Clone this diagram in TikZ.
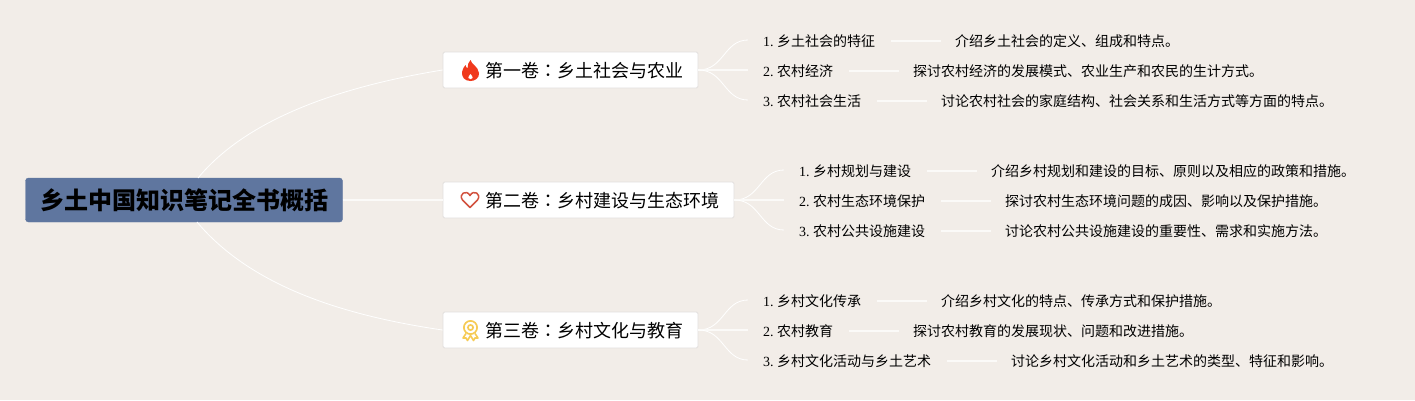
\documentclass[tikz,border=0pt]{standalone}
\usepackage{fontspec}
\setmainfont{Liberation Serif}
\newfontfamily\cjk{Noto Sans CJK SC}
\newfontfamily\cjkcolon{Noto Sans CJK TC}
\usepackage{tikz}
\usetikzlibrary{positioning}
\definecolor{paper}{HTML}{F2EDE8}
\definecolor{rootblue}{HTML}{5F769F}
\definecolor{framegrey}{HTML}{E2DFDD}
\definecolor{flame}{HTML}{F0391C}
\definecolor{heartred}{HTML}{D2523F}
\definecolor{ribbon}{HTML}{F6CB55}
\tikzset{root/.style = {fill=rootblue, draw=rootblue, rounded corners=3, minimum width=317, minimum height=44, inner sep=0, font=\fontsize{24}{24}\cjk\bfseries}}
\tikzset{vol/.style = {fill=white, draw=framegrey, line width=0.9, rounded corners=1.5, minimum height=36, inner sep=0}}
\tikzset{voltext/.style = {anchor=west, inner sep=0, font=\fontsize{18}{18}\cjk}}
\tikzset{item/.style = {anchor=west, inner sep=0, font=\fontsize{14}{14}\selectfont}}
\tikzset{link/.style = {draw=white, line width=0.8}}
\tikzset{stem/.style = {draw=white!70!paper, line width=1.3}}
\newcommand{\nr}[1]{#1.\hspace{3.5pt}}
\begin{document}
\begin{tikzpicture}[x=1pt, y=-1pt]
    \useasboundingbox [fill=paper] (0, 0) rectangle (1415, 400);

    \node [root] (book) at (184, 200) {\raisebox{-0.8pt}{乡土中国知识笔记全书概括}};

    \node [vol, minimum width=255] (volA) at (570.5, 70) {};
    \node [vol, minimum width=291] (volB) at (588.5, 200) {};
    \node [vol, minimum width=255] (volC) at (570.5, 330) {};
    \node [voltext] (volAtext) at (485, 71) {第一卷{\cjkcolon ：}乡土社会与农业};
    \node [voltext] (volBtext) at (485, 201) {第二卷{\cjkcolon ：}乡村建设与生态环境};
    \node [voltext] (volCtext) at (485, 331) {第三卷{\cjkcolon ：}乡村文化与教育};

    % icons
    \fill [flame] (470.5, 60) .. controls (471, 64) and (478, 66) .. (479, 73) .. controls (479.5, 78) and (475, 81) .. (470.5, 81) .. controls (465, 81) and (461.5, 77.5) .. (462, 72) .. controls (462.5, 69) and (464, 67) .. (465.5, 65) .. controls (466, 67) and (466.5, 68) .. (467.5, 68.5) .. controls (467.5, 65) and (468.5, 62) .. (470.5, 60) -- cycle;
    \fill [white] (470.5, 74) .. controls (471.5, 75.5) and (473, 76.5) .. (472.7, 78) .. controls (472.3, 79.5) and (468.7, 79.5) .. (468.3, 78) .. controls (468, 76.5) and (469.5, 75.5) .. (470.5, 74) -- cycle;
    \draw [heartred, line width=1.5, line join=round] (470, 207.5) -- (462.5, 200) .. controls (458, 194) and (466.5, 189) .. (470, 195.5) .. controls (473.5, 189) and (482, 194) .. (477.5, 200) -- cycle;
    \draw [ribbon, line width=1.7] (470.5, 327.5) circle (6.6) (470.5, 327.5) circle (2.6);
    \draw [ribbon, line width=1.6, line join=round] (466, 333.5) -- (463, 338) -- (466, 338) -- (467.5, 340.5) -- (470.5, 335.5) -- (473.5, 340.5) -- (475, 338) -- (478, 338) -- (475, 333.5);

    % book to volumes
    \draw [link] (198, 178) .. controls (250, 115) and (350, 85) .. (volA.west);
    \draw [stem] (book.east) -- (volB.west);
    \draw [link] (197, 222) .. controls (250, 285) and (340, 315) .. (volC.west);

    % items, first volume
    \node [item] (a1) at (763, 41) {\nr{1}{\cjk 乡土社会的特征}};
    \node [item] (a2) at (763, 71) {\nr{2}{\cjk 农村经济}};
    \node [item] (a3) at (763, 101) {\nr{3}{\cjk 农村社会生活}};
    \node [item] (ta1) at (955, 41) {\cjk 介绍乡土社会的定义、组成和特点。};
    \node [item] (ta2) at (913, 71) {\cjk 探讨农村经济的发展模式、农业生产和农民的生计方式。};
    \node [item] (ta3) at (941, 101) {\cjk 讨论农村社会的家庭结构、社会关系和生活方式等方面的特点。};

    % items, second volume
    \node [item] (b1) at (799, 171) {\nr{1}{\cjk 乡村规划与建设}};
    \node [item] (b2) at (799, 201) {\nr{2}{\cjk 农村生态环境保护}};
    \node [item] (b3) at (799, 231) {\nr{3}{\cjk 农村公共设施建设}};
    \node [item] (tb1) at (991, 171) {\cjk 介绍乡村规划和建设的目标、原则以及相应的政策和措施。};
    \node [item] (tb2) at (1005, 201) {\cjk 探讨农村生态环境问题的成因、影响以及保护措施。};
    \node [item] (tb3) at (1005, 231) {\cjk 讨论农村公共设施建设的重要性、需求和实施方法。};

    % items, third volume
    \node [item] (c1) at (763, 301) {\nr{1}{\cjk 乡村文化传承}};
    \node [item] (c2) at (763, 331) {\nr{2}{\cjk 农村教育}};
    \node [item] (c3) at (763, 361) {\nr{3}{\cjk 乡村文化活动与乡土艺术}};
    \node [item] (tc1) at (941, 301) {\cjk 介绍乡村文化的特点、传承方式和保护措施。};
    \node [item] (tc2) at (913, 331) {\cjk 探讨农村教育的发展现状、问题和改进措施。};
    \node [item] (tc3) at (1011, 361) {\cjk 讨论乡村文化活动和乡土艺术的类型、特征和影响。};

    \foreach \vol/\lab/\y in {volA/a/40, volC/c/300} {
      \coordinate (\lab s1) at (748, \y);
      \coordinate (\lab s2) at (748, \y+30);
      \coordinate (\lab s3) at (748, \y+60);
      \draw [link] (\vol.east) .. controls (724, \y+30) and (724, \y) .. (\lab s1);
      \draw [stem] (\vol.east) -- (\lab s2);
      \draw [link] (\vol.east) .. controls (724, \y+30) and (724, \y+60) .. (\lab s3);
    }
    \coordinate (bs1) at (784, 170);
    \coordinate (bs2) at (784, 200);
    \coordinate (bs3) at (784, 230);
    \draw [link] (volB.east) .. controls (760, 200) and (760, 170) .. (bs1);
    \draw [stem] (volB.east) -- (bs2);
    \draw [link] (volB.east) .. controls (760, 200) and (760, 230) .. (bs3);

    \foreach \from/\to in {a1/ta1, a2/ta2, a3/ta3, b1/tb1, b2/tb2, b3/tb3, c1/tc1, c2/tc2, c3/tc3} {
      \draw [stem] ([xshift=16]\from.east) -- ([xshift=-14]\to.west);
    }
  \end{tikzpicture}
\end{document}
